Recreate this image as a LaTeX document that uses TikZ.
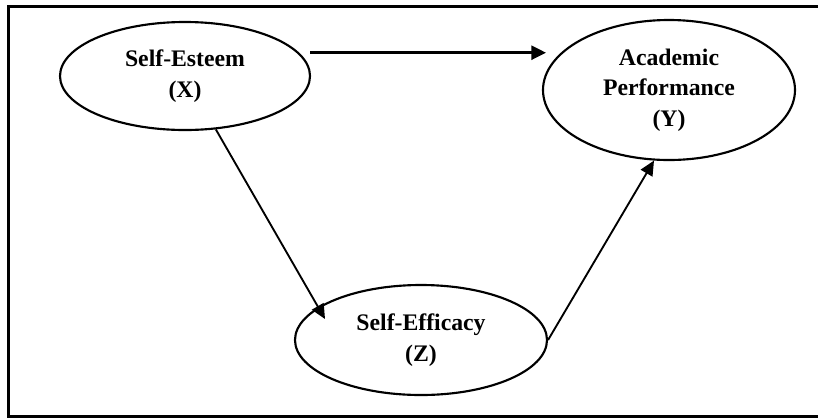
\documentclass[tikz,border=0pt]{standalone}
\usepackage{fontspec}
\setmainfont{Liberation Serif}
\usetikzlibrary{shapes.geometric,arrows.meta}
\begin{document}
\begin{tikzpicture}[x=0.75pt,y=-0.75pt,
  var/.style={draw, ellipse, line width=1.6pt, inner sep=0pt, align=center,
    font=\fontsize{17.8}{20.5}\selectfont\bfseries},
  arr/.style={-{Triangle[length=11pt,width=10pt]}, line width=1.4pt},
  arrthick/.style={-{Triangle[length=11pt,width=10.5pt]}, line width=2pt}]
\useasboundingbox (0,0) rectangle (818,419);
\draw[line width=2pt] (8.5,6.5) rectangle (824,416.5);
\node[var, minimum width=250*0.75pt, minimum height=108*0.75pt] (X) at (185,76) {Self-Esteem\\[2.5pt](X)};
\node[var, minimum width=252*0.75pt, minimum height=140*0.75pt] (Y) at (669,90) {Academic\\[2.5pt]Performance\\[2.5pt](Y)};
\node[var, minimum width=252*0.75pt, minimum height=110*0.75pt] (Z) at (421,340) {Self-Efficacy\\[2.5pt](Z)};
\coordinate (h1) at (310,52.7);
\coordinate (h2) at (546,52.7);
\coordinate (zin) at (325,319);
\draw[arrthick] (h1) -- (h2);
\draw[arr] (X.-60.5) -- (zin);
\draw[arr] (Z.east) -- (Y.-102);
\end{tikzpicture}
\end{document}
